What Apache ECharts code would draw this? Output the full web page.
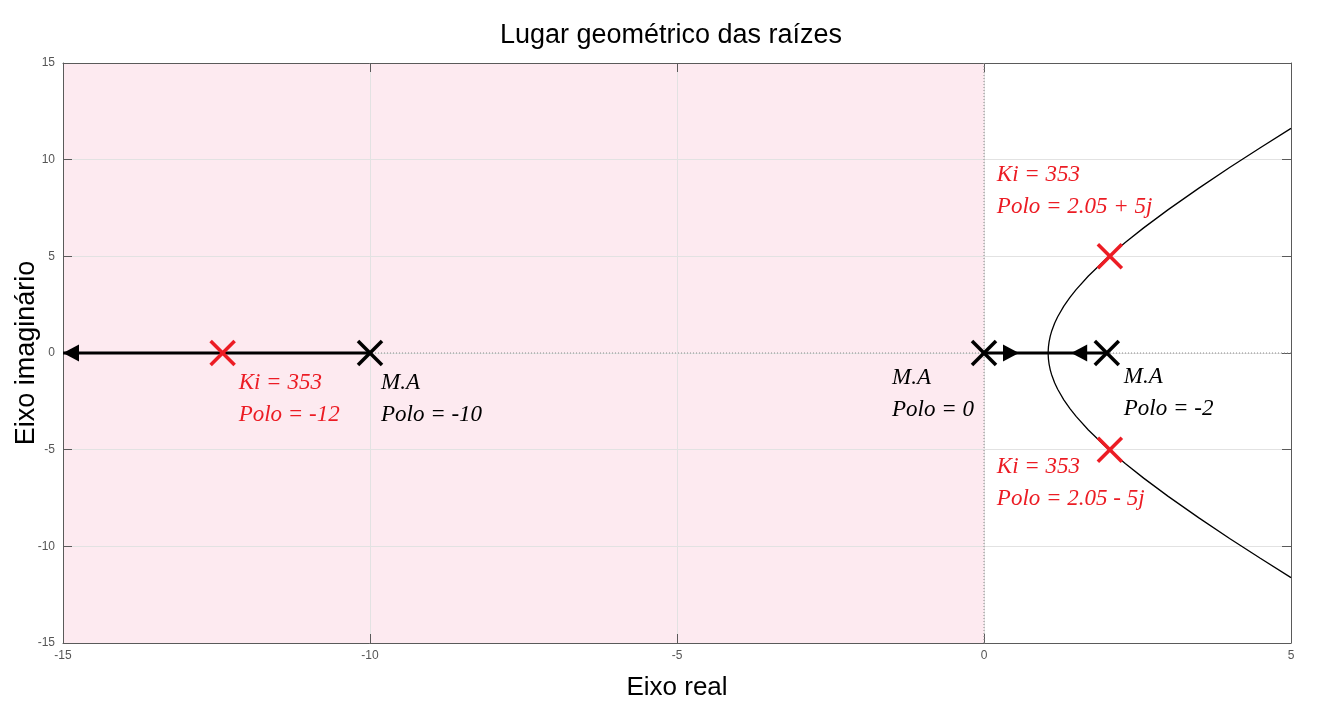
<!DOCTYPE html>
<html>
<head>
<meta charset="utf-8">
<script src="https://cdn.jsdelivr.net/npm/echarts@6/dist/echarts.min.js"></script>
<style>
  html, body { margin: 0; padding: 0; background: #fff; }
  #chart { width: 1342px; height: 710px; }
</style>
</head>
<body>
<div id="chart"></div>
<script>
// ---------- data ----------
const xTicks = [-15, -10, -5, 0, 5];
const yTicks = [-15, -10, -5, 0, 5, 10, 15];
const stableRegion = [[-15, 0]];            // x range of shaded left half-plane
const zeroLineH = [[-15, 0], [5, 0]];
const zeroLineV = [[0, -15], [0, 15]];

// root locus complex branches
const locusX  = [1.045, 1.046, 1.05, 1.06, 1.08, 1.1, 1.15, 1.2, 1.3, 1.4, 1.5, 1.7, 2.0, 2.3, 2.6, 3.0, 3.5, 4.0, 4.5, 5.0];
const upperY  = [0, 0.135, 0.328, 0.575, 0.883, 1.109, 1.539, 1.876, 2.423, 2.877, 3.279, 3.984, 4.899, 5.716, 6.472, 7.416, 8.529, 9.592, 10.618, 11.619];
const lowerY  = [0, -0.135, -0.328, -0.575, -0.883, -1.109, -1.539, -1.876, -2.423, -2.877, -3.279, -3.984, -4.899, -5.716, -6.472, -7.416, -8.529, -9.592, -10.618, -11.619];

// real-axis branches
const branchA = [[-10, 0], [-15, 0]];
const branchB = [[0, 0], [1.045, 0]];
const branchC = [[2, 0], [1.045, 0]];
// arrows: [x tip, y, direction(-1 left, +1 right)]
const arrows = [[-15, 0, -1], [0.57, 0, 1], [1.42, 0, -1]];

// open-loop poles (black) and closed-loop poles for Ki = 353 (red)
const blackPoles = [[-10, 0], [0, 0], [2, 0]];
const blackLabels = ['M.A\nPolo = -10', 'M.A\nPolo = 0', 'M.A\nPolo = -2'];
const redPoles = [[-12.4, 0], [2.05, 5], [2.05, -5]];
const redLabels = ['Ki = 353\nPolo = -12', 'Ki = 353\nPolo = 2.05 + 5j', 'Ki = 353\nPolo = 2.05 - 5j'];

// ---------- layout/styles ----------
const blackLabelOffsets = [[11, 14], [-92, 9], [17, 8]];
const redLabelOffsets = [[16, 14], [-113, -97], [-113, 1]];
const RED = '#ec1c24';
const AXIS_COLOR = '#5a5a5a';
const GRID_COLOR = '#e2e2e2';
const LABEL_FONT = { fontFamily: 'Liberation Serif', fontStyle: 'italic', fontSize: 23, lineHeight: 32 };

function zip(xs, ys) { return xs.map((x, i) => [x, ys[i]]); }

function markerSeries(points, labels, offsets, color, name) {
  return {
    type: 'custom', name: name, z: 5, clip: false,
    data: points,
    encode: { x: 0, y: 1 },
    renderItem: function (params, api) {
      const p = api.coord([api.value(0), api.value(1)]);
      const h = 12;
      const off = offsets[params.dataIndex];
      return {
        type: 'group',
        children: [
          { type: 'line', shape: { x1: p[0] - h, y1: p[1] - h, x2: p[0] + h, y2: p[1] + h }, style: { stroke: color, lineWidth: 3.5 } },
          { type: 'line', shape: { x1: p[0] - h, y1: p[1] + h, x2: p[0] + h, y2: p[1] - h }, style: { stroke: color, lineWidth: 3.5 } },
          { type: 'text', x: p[0] + off[0], y: p[1] + off[1],
            style: Object.assign({ text: labels[params.dataIndex], fill: color, align: 'left', verticalAlign: 'top' }, LABEL_FONT) }
        ]
      };
    }
  };
}

function lineSeries(data, width, extra) {
  return Object.assign({
    type: 'line', data: data, symbol: 'none', silent: true,
    lineStyle: { color: '#000', width: width }, z: 3, animation: false
  }, extra || {});
}

const axisCommon = {
  type: 'value',
  axisLine: { show: true, onZero: false, lineStyle: { color: AXIS_COLOR, width: 1 } },
  axisTick: { show: true, inside: true, length: 9, lineStyle: { color: AXIS_COLOR } },
};

const option = {
  animation: false,
  backgroundColor: '#fff',
  title: {
    text: 'Lugar geométrico das raízes',
    left: 'center', top: 17,
    textStyle: { fontFamily: 'Liberation Sans', fontSize: 27, fontWeight: 'normal', color: '#000' }
  },
  grid: { left: 63, right: 51, top: 63, bottom: 67, containLabel: false, outerBoundsMode: 'none' },
  xAxis: [
    Object.assign({}, axisCommon, {
      min: xTicks[0], max: xTicks[xTicks.length - 1], interval: 5, position: 'bottom',
      splitLine: { show: true, lineStyle: { color: GRID_COLOR } },
      axisLabel: { color: '#555', fontSize: 12, margin: 7, fontFamily: 'Liberation Sans' },
      name: 'Eixo real', nameLocation: 'middle', nameGap: 32, nameMoveOverlap: false,
      nameTextStyle: { fontFamily: 'Liberation Sans', fontSize: 26, color: '#000' }
    }),
    Object.assign({}, axisCommon, {
      min: xTicks[0], max: xTicks[xTicks.length - 1], interval: 5, position: 'top',
      splitLine: { show: false }, axisLabel: { show: false }
    })
  ],
  yAxis: [
    Object.assign({}, axisCommon, {
      min: yTicks[0], max: yTicks[yTicks.length - 1], interval: 5, position: 'left',
      splitLine: { show: true, lineStyle: { color: GRID_COLOR } },
      axisLabel: { color: '#555', fontSize: 12, margin: 8, fontFamily: 'Liberation Sans' },
      name: 'Eixo imaginário', nameLocation: 'middle', nameGap: 23, nameMoveOverlap: false,
      nameTextStyle: { fontFamily: 'Liberation Sans', fontSize: 27, color: '#000' }
    }),
    Object.assign({}, axisCommon, {
      min: yTicks[0], max: yTicks[yTicks.length - 1], interval: 5, position: 'right',
      splitLine: { show: false }, axisLabel: { show: false }
    })
  ],
  series: [
    {
      type: 'custom', name: 'region', z: -1, silent: true,
      data: stableRegion, encode: { x: [0, 1] },
      renderItem: function (params, api) {
        const a = api.coord([api.value(0), yTicks[yTicks.length - 1]]);
        const b = api.coord([api.value(1), yTicks[0]]);
        return { type: 'rect', shape: { x: a[0], y: a[1], width: b[0] - a[0], height: b[1] - a[1] }, style: { fill: '#fdeaf0' } };
      }
    },
    lineSeries(zeroLineH, 1, { lineStyle: { color: '#8a8a8a', width: 1, type: [1, 2] }, z: 2 }),
    lineSeries(zeroLineV, 1, { lineStyle: { color: '#8a8a8a', width: 1, type: [1, 2] }, z: 2 }),
    lineSeries(zip(locusX, upperY), 1.3),
    lineSeries(zip(locusX, lowerY), 1.3),
    lineSeries(branchA, 3),
    lineSeries(branchB, 3),
    lineSeries(branchC, 3),
    {
      type: 'custom', name: 'arrows', z: 4, clip: false,
      data: arrows, encode: { x: 0, y: 1 },
      renderItem: function (params, api) {
        const p = api.coord([api.value(0), api.value(1)]);
        const d = api.value(2);
        const L = 16, H = 8.5;
        return {
          type: 'polygon',
          shape: { points: [[p[0], p[1]], [p[0] - d * L, p[1] - H], [p[0] - d * L, p[1] + H]] },
          style: { fill: '#000' }
        };
      }
    },
    markerSeries(blackPoles, blackLabels, blackLabelOffsets, '#000', 'openLoop'),
    markerSeries(redPoles, redLabels, redLabelOffsets, RED, 'closedLoop')
  ]
};

const chart = echarts.init(document.getElementById('chart'), null, { renderer: 'canvas' });
chart.setOption(option);
</script>
</body>
</html>
